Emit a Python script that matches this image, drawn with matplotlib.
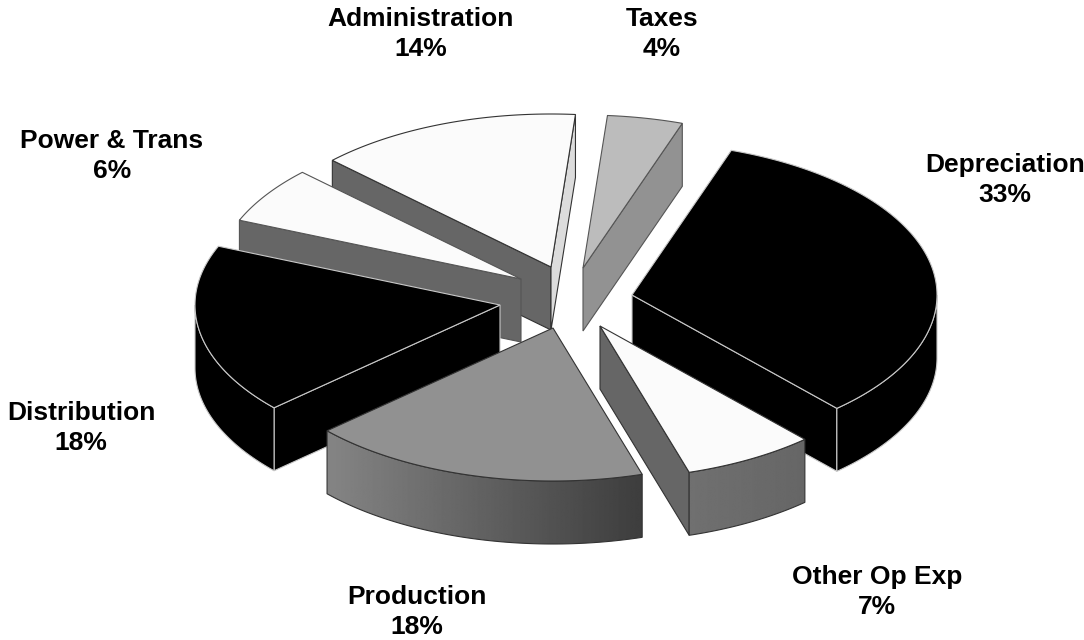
import numpy as np
import matplotlib
matplotlib.use("Agg")
import matplotlib.pyplot as plt
from matplotlib.patches import Polygon

plt.rcParams['font.family'] = ['Liberation Sans', 'DejaVu Sans']

# clockwise from the start angle
labels = ["Depreciation", "Other Op Exp", "Production", "Distribution",
          "Power & Trans", "Administration", "Taxes"]
values = [33, 7, 18, 18, 6, 14, 4]

# pie geometry in pixels
START_ANGLE = 71.0
RX = 305
RY = 153
DEPTH = 63

# where each exploded slice has its tip
tips = [(632, 295), (600, 326), (553, 328), (500, 305), (521, 279), (551, 267), (583, 268)]
# top colour, outline, left/right shade of the outer wall, colours of the two cut faces
tops = ["#000000", "#fbfbfb", "#919191", "#000000", "#fbfbfb", "#fbfbfb", "#bcbcbc"]
outlines = ["#c8c8c8", "#333333", "#333333", "#c8c8c8", "#555555", "#333333", "#555555"]
walls = [(0.0, 0.0), (0.44, 0.40), (0.52, 0.24), (0.0, 0.0), (0.40, 0.40), (0.40, 0.40), (0.58, 0.58)]
start_cuts = ["#000000", "#666666", "#666666", "#000000", "#666666", "#666666", "#b0b0b0"]
end_cuts = ["#000000", "#666666", "#666666", "#000000", "#666666", "#dcdcdc", "#929292"]

# centre of the two text lines
label_pos = [(1005, 180), (877, 592), (417, 612), (81, 428), (112, 156), (421, 34), (662, 34)]

# back slices first so the front ones cover them
draw_order = [6, 5, 4, 3, 0, 1, 2]

fig = plt.figure(figsize=(10.84, 6.40), dpi=100)
ax = fig.add_axes([0, 0, 1, 1])


def arc(cx, cy, a0, a1, n=120):
    t = np.radians(np.linspace(a0, a1, n))
    return cx + RX * np.cos(t), cy - RY * np.sin(t)


def cut_visible(a, a_mid):
    # the cut shows when moving it down takes it away from the slice
    e = np.array([RX * np.cos(np.radians(a)), -RY * np.sin(np.radians(a))])
    m = np.array([RX * np.cos(np.radians(a_mid)), -RY * np.sin(np.radians(a_mid))])
    return (e[0] * m[1] - e[1] * m[0]) * e[0] < 0


def draw_slice(i, a0, a1, z):
    cx, cy = tips[i]
    xs, ys = arc(cx, cy, a0, a1)
    edge = outlines[i]
    a_mid = (a0 + a1) / 2

    for a, x, y, col in ((a0, xs[0], ys[0], start_cuts[i]), (a1, xs[-1], ys[-1], end_cuts[i])):
        if cut_visible(a, a_mid):
            face = [(cx, cy), (x, y), (x, y + DEPTH), (cx, cy + DEPTH)]
            ax.add_patch(Polygon(face, closed=True, fc=col, ec=edge, lw=0.8, zorder=z))

    # outer wall only on the front half, shaded left to right
    hi, lo = min(a0, 0), max(a1, -180)
    if hi > lo:
        wx, wy = arc(cx, cy, hi, lo)
        wall_xy = np.vstack([np.column_stack([wx, wy]),
                             np.column_stack([wx[::-1], wy[::-1] + DEPTH])])
        left, right = walls[i]
        grad = np.linspace(left, right, 256).reshape(1, -1)
        im = ax.imshow(grad, cmap="gray", vmin=0, vmax=1, aspect="auto", zorder=z + 0.1,
                       extent=(wx.min(), wx.max(), wy.max() + DEPTH, wy.min()))
        wall = Polygon(wall_xy, closed=True, fc="none", ec=edge, lw=0.8, zorder=z + 0.2)
        ax.add_patch(wall)
        im.set_clip_path(wall)

    top_xy = np.vstack([[(cx, cy)], np.column_stack([xs, ys])])
    ax.add_patch(Polygon(top_xy, closed=True, fc=tops[i], ec=edge, lw=0.8, zorder=z + 0.3))


edges = START_ANGLE - np.cumsum([0] + values) * 3.6
for z, i in enumerate(draw_order):
    draw_slice(i, edges[i], edges[i + 1], z + 1)

for name, val, (x, y) in zip(labels, values, label_pos):
    ax.text(x, y, f"{name}\n{val}%", ha="center", va="center", fontsize=19,
            fontweight="bold", color="black", linespacing=1.34, zorder=100)

ax.set_xlim(0, 1084)
ax.set_ylim(640, 0)
ax.axis("off")

fig.savefig("out.png", dpi=100)
